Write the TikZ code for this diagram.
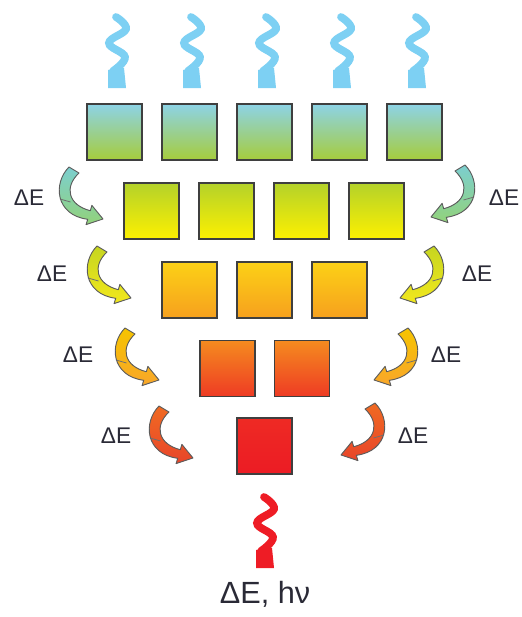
\documentclass[tikz,border=0pt]{standalone}
\usepackage{fontspec}
\setmainfont{Liberation Sans}
\definecolor{wblue}{HTML}{7DD0F3}
\definecolor{wred}{HTML}{EE1C25}
\definecolor{edge}{HTML}{3F3F3F}
\definecolor{txt}{HTML}{2A2A36}
\definecolor{ra}{HTML}{8DD3E6}\definecolor{rb}{HTML}{A6CC3C}
\definecolor{rc}{HTML}{B4D22A}\definecolor{rd}{HTML}{FDF000}
\definecolor{re}{HTML}{FCD116}\definecolor{rf}{HTML}{F6A01E}
\definecolor{rg}{HTML}{F58B1F}\definecolor{rh}{HTML}{EE3B24}
\definecolor{ri}{HTML}{EE2A24}\definecolor{rj}{HTML}{EC1C24}
\definecolor{aa}{HTML}{7CCFCF}\definecolor{ab}{HTML}{92D27A}
\definecolor{ac}{HTML}{C6D520}\definecolor{ad}{HTML}{F2E81C}
\definecolor{ae}{HTML}{F6C400}\definecolor{af}{HTML}{F8A62A}
\definecolor{ag}{HTML}{F06A22}\definecolor{ah}{HTML}{E8452A}
\tikzset{
  sq/.style={draw=edge, line width=1.1pt, minimum width=55*0.75pt, minimum height=56*0.75pt, inner sep=0pt, outer sep=0pt},
  lbl/.style={text=txt, font=\fontsize{17}{17}\selectfont, inner sep=0pt},
  arr/.style={draw=edge!85, line width=0.7pt, line join=round},
}
\newcommand{\mywave}[3]{%
  \begin{scope}[shift={(#1,#2)}]
    \draw[#3, line width=5.8pt, line cap=round] plot[smooth, tension=0.7] coordinates {(-1,2) (9,14) (-8,28) (8,42) (-4,56)};
    \fill[#3] (-9,55) -- (7,53) -- (9,73) -- (-9,73) -- cycle;
  \end{scope}}
\newcommand{\myarrow}[5]{%
  \begin{scope}[shift={(#1,#2)}, xscale=#3]
    \shadedraw[arr, top color=#4, bottom color=#5]
      (-34,-52) .. controls (-50,-36) and (-48,-4) .. (-15.3,0.3)
      -- (-16.9,5.6) -- (0,0) -- (-11.1,-13.6) -- (-12.7,-8.3)
      .. controls (-35,-14) and (-39,-32) .. (-24,-46) -- cycle;
    \draw[edge!75, line width=0.6pt] (-43,-20) -- (-32.5,-17);
  \end{scope}}
\begin{document}
\begin{tikzpicture}[x=0.75pt, y=-0.75pt]
\useasboundingbox (0,0) rectangle (521,617);
% top waves
\foreach \i in {0,...,4} { \mywave{117+75*\i}{15}{wblue} }
% row 1
\foreach \i/\n in {0/a,1/b,2/c,3/d,4/e}
  \node[sq, top color=ra, bottom color=rb] (r1\n) at (114.5+75*\i,132) {};
% row 2
\foreach \i/\n in {0/a,1/b,2/c,3/d}
  \node[sq, top color=rc, bottom color=rd] (r2\n) at (151.5+75*\i,211) {};
% row 3
\foreach \i/\n in {0/a,1/b,2/c}
  \node[sq, top color=re, bottom color=rf] (r3\n) at (189.5+75*\i,290) {};
% row 4
\foreach \i/\n in {0/a,1/b}
  \node[sq, top color=rg, bottom color=rh] (r4\n) at (227.5+74.5*\i,368.5) {};
% row 5
\node[sq, top color=ri, bottom color=rj] (r5a) at (264.5,446) {};
% bottom wave
\mywave{265}{495}{wred}
\node[text=txt, font=\fontsize{23}{23}\selectfont, inner sep=0pt] (out) at (265,594) {ΔE, hν};
% curved arrows
\myarrow{103}{219}{1}{aa}{ab}
\myarrow{431}{217}{-1}{aa}{ab}
\myarrow{131}{298}{1}{ac}{ad}
\myarrow{400}{298}{-1}{ac}{ad}
\myarrow{159}{380}{1}{ae}{af}
\myarrow{374}{380}{-1}{ae}{af}
\myarrow{193}{458}{1}{ag}{ah}
\myarrow{341}{455}{-1}{ag}{ah}
% labels
\node[lbl] (l2) at (29,198) {ΔE};
\node[lbl] (r2) at (504,198) {ΔE};
\node[lbl] (l3) at (52,274) {ΔE};
\node[lbl] (r3) at (477,274) {ΔE};
\node[lbl] (l4) at (78,355) {ΔE};
\node[lbl] (r4) at (446,355) {ΔE};
\node[lbl] (l5) at (116,436) {ΔE};
\node[lbl] (r5) at (413,436) {ΔE};
\end{tikzpicture}
\end{document}
